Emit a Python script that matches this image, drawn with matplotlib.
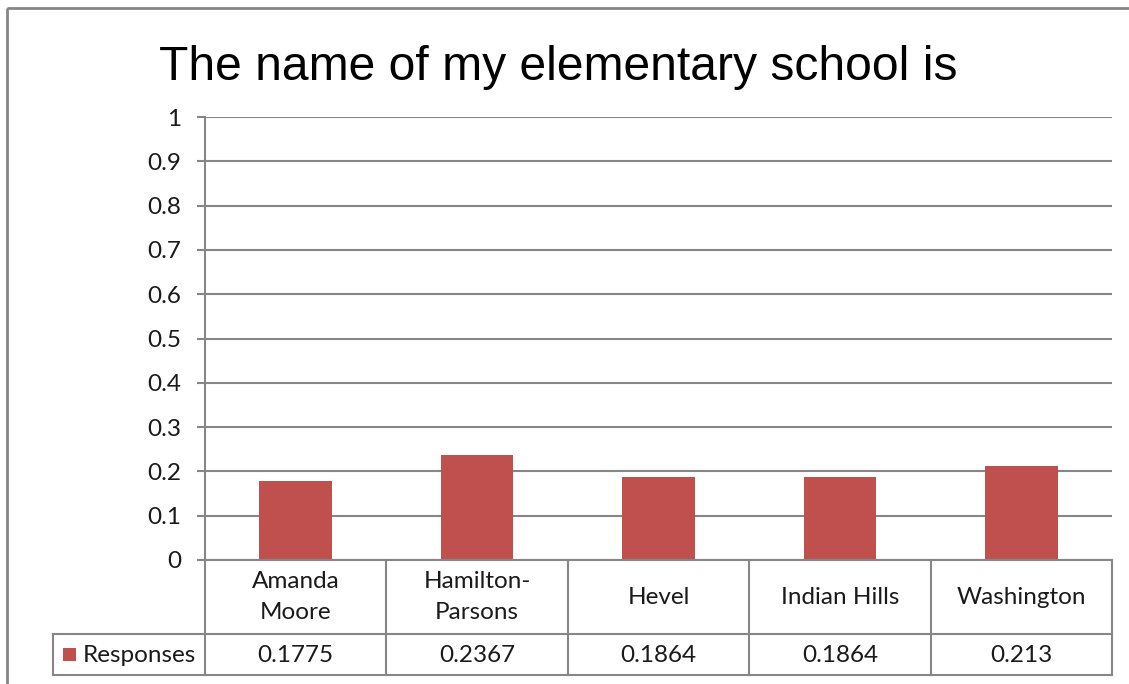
import matplotlib
matplotlib.use("Agg")
import matplotlib.pyplot as plt
import matplotlib.transforms as mtransforms
from matplotlib.patches import Rectangle
from matplotlib.lines import Line2D

# 데이터
schools = ["Amanda\nMoore", "Hamilton-\nParsons", "Hevel", "Indian Hills", "Washington"]
responses = [0.1775, 0.2367, 0.1864, 0.1864, 0.213]
value_labels = ["0.1775", "0.2367", "0.1864", "0.1864", "0.213"]
series_name = "Responses"
yticks = [0, 0.1, 0.2, 0.3, 0.4, 0.5, 0.6, 0.7, 0.8, 0.9, 1.0]
ytick_labels = ["0", "0.1", "0.2", "0.3", "0.4", "0.5", "0.6", "0.7", "0.8", "0.9", "1"]
title = "The name of my elementary school is"

BAR_COLOR = "#C0504D"
LINE_COLOR = "#868686"
TEXT_COLOR = "#1a1a1a"
TEXT_FONT = ["Lato", "DejaVu Sans"]
TITLE_FONT = ["Liberation Sans", "DejaVu Sans"]
FS = 17.5

W, H = 1129, 684
fig = plt.figure(figsize=(W / 100, H / 100), dpi=100)
fig.patch.set_facecolor("white")

# 픽셀 좌표 변환 (위에서 아래로)
px = mtransforms.Affine2D().scale(1 / W, -1 / H).translate(0, 1) + fig.transFigure

ax_l, ax_r, ax_t, ax_b = 205, 1112, 117, 560
ax = fig.add_axes([ax_l / W, 1 - ax_b / H, (ax_r - ax_l) / W, (ax_b - ax_t) / H])

n = len(schools)
x = list(range(n))
ax.bar(x, responses, width=0.4, color=BAR_COLOR, zorder=3)
ax.set_xlim(-0.5, n - 0.5)
ax.set_ylim(0, 1)
ax.set_yticks(yticks)
ax.set_yticklabels(ytick_labels, family=TEXT_FONT, fontsize=FS, color=TEXT_COLOR)
ax.set_xticks([])
ax.yaxis.grid(True, color=LINE_COLOR, lw=1.5, zorder=0)
ax.set_axisbelow(True)
ax.tick_params(axis="y", length=6, width=1.5, color=LINE_COLOR, pad=11)
for s in ["top", "right"]:
    ax.spines[s].set_visible(False)
for s in ["left", "bottom"]:
    ax.spines[s].set_color(LINE_COLOR)
    ax.spines[s].set_linewidth(1.5)
    ax.spines[s].set_zorder(4)

# 데이터 테이블 (아래)
row1_b, row2_b = 634, 675
col_w = (ax_r - ax_l) / n
left_edge = -0.5 - (ax_l - 53) / col_w
blend_y = mtransforms.blended_transform_factory(ax.transData, px)

lines = []
# 가로선
lines.append(([-0.5, n - 0.5], [row1_b, row1_b]))
lines.append(([left_edge, -0.5], [row1_b, row1_b]))
lines.append(([left_edge, n - 0.5], [row2_b, row2_b]))
# 세로선
for i in range(n + 1):
    lines.append(([i - 0.5, i - 0.5], [ax_b, row2_b]))
lines.append(([left_edge, left_edge], [row1_b, row2_b]))
for xs, ys in lines:
    fig.add_artist(Line2D(xs, ys, transform=blend_y, color=LINE_COLOR, lw=1.5))

for i, (name, val) in enumerate(zip(schools, value_labels)):
    ax.text(i, (ax_b + row1_b) / 2, name, transform=blend_y, ha="center", va="center",
            family=TEXT_FONT, fontsize=FS, color=TEXT_COLOR, linespacing=1.55, clip_on=False)
    ax.text(i, (row1_b + row2_b) / 2 + 1, val, transform=blend_y, ha="center", va="center",
            family=TEXT_FONT, fontsize=FS, color=TEXT_COLOR, clip_on=False)

# 범례 키
fig.add_artist(Rectangle((63, 648), 13, 13, transform=px, facecolor=BAR_COLOR, edgecolor="none"))
fig.text(83, (row1_b + row2_b) / 2 + 1, series_name, transform=px, ha="left", va="center",
         family=TEXT_FONT, fontsize=FS, color=TEXT_COLOR)

# 제목
fig.text(558, 68, title, transform=px, ha="center", va="center",
         family=TITLE_FONT, fontsize=34.6, color="black")

# 외곽 테두리
fig.add_artist(Rectangle((7, 8), W + 20, H + 20, transform=px, facecolor="none",
                         edgecolor=LINE_COLOR, lw=2))

fig.savefig("out.png", dpi=100, facecolor="white")
